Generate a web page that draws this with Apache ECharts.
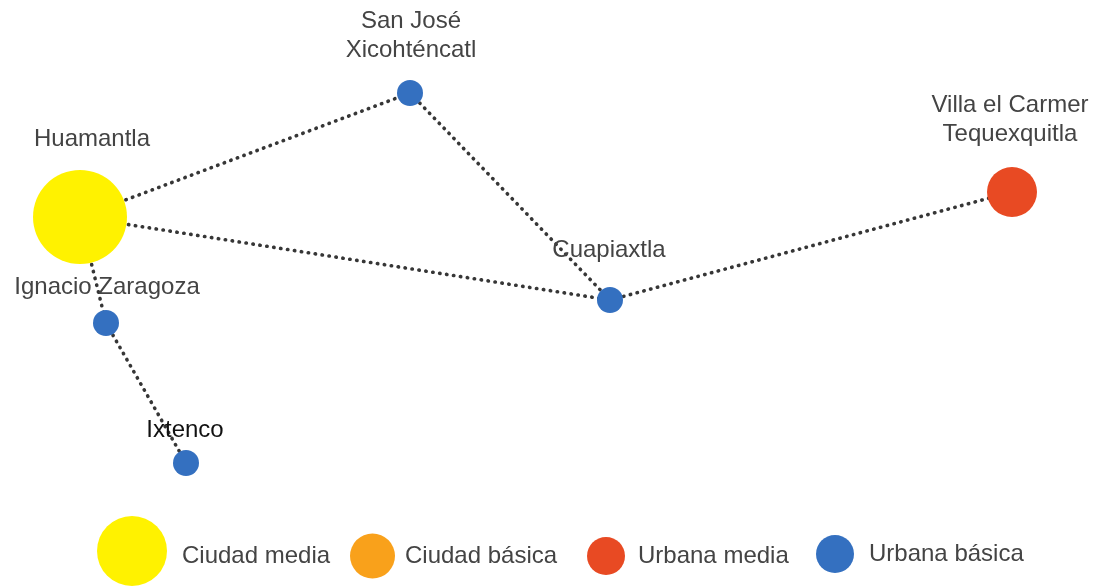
<!DOCTYPE html>
<html><head><meta charset="utf-8">
<script src="https://cdn.jsdelivr.net/npm/echarts@6/dist/echarts.min.js"></script>
<style>html,body{margin:0;padding:0;background:#fff}#c{width:1096px;height:588px}</style>
</head><body><div id="c"></div>
<script>
// ---- data ----
const nodeNames = ['Huamantla', 'San José\nXicohténcatl', 'Cuapiaxtla', 'Villa el Carmer\nTequexquitla', 'Ignacio Zaragoza', 'Ixtenco'];
const nodeX = [80, 410, 610, 1012, 106, 186];
const nodeY = [217, 93, 300, 192, 323, 463];
const nodeCategory = ['Ciudad media', 'Urbana básica', 'Urbana básica', 'Urbana media', 'Urbana básica', 'Urbana básica'];
const linkSource = [0, 0, 1, 2, 0, 4];
const linkTarget = [1, 2, 2, 3, 4, 5];
const categories = ['Ciudad media', 'Ciudad básica', 'Urbana media', 'Urbana básica'];

// ---- styles ----
const catColors = ['#FFF200', '#F9A11B', '#E84A23', '#3470C0'];
const catNodeSize = [94, 46, 50, 26];
const legendSize = [70, 45, 38, 38];
const legendLeft = [97, 350, 587, 816];
const legendCenterY = [551, 556, 556, 554];
const legendTextPad = [[10, 0, 0, 10], [0, 0, 0, 5], [0, 0, 0, 8], [0, 0, 0, 10]];
const labelStyle = [
  {distance: 16.5, offset: [12, 0]},
  {distance: 15, offset: [1, 0]},
  {distance: 22.5, offset: [-1, 0]},
  {distance: 18.5, offset: [-2, 0]},
  {distance: 8.5, offset: [1, 0]},
  {distance: 5, offset: [-1, 0], color: '#111'}
];

const nodes = nodeNames.map((n, i) => {
  const ci = categories.indexOf(nodeCategory[i]);
  return {
    name: n,
    value: [nodeX[i], nodeY[i]],
    category: ci,
    symbolSize: catNodeSize[ci],
    label: Object.assign({}, labelStyle[i])
  };
});
const links = linkSource.map((s, i) => ({source: s, target: linkTarget[i]}));

const chart = echarts.init(document.getElementById('c'));
chart.setOption({
  animation: false,
  backgroundColor: '#fff',
  grid: {left: 0, right: 0, top: 0, bottom: 0},
  xAxis: {type: 'value', min: 0, max: 1096, show: false},
  yAxis: {type: 'value', min: 0, max: 588, inverse: true, show: false},
  legend: categories.map((c, i) => ({
    data: [c],
    left: legendLeft[i],
    top: legendCenterY[i] - legendSize[i] / 2,
    icon: 'circle',
    itemWidth: legendSize[i],
    itemHeight: legendSize[i],
    selectedMode: false,
    padding: 0,
    formatter: '{t|{name}}',
    textStyle: {
      fontSize: 24, color: '#444', fontFamily: 'Liberation Sans',
      rich: {t: {fontSize: 24, color: '#444', fontFamily: 'Liberation Sans', padding: legendTextPad[i]}}
    }
  })),
  series: [{
    type: 'graph',
    coordinateSystem: 'cartesian2d',
    symbol: 'circle',
    data: nodes,
    links: links,
    categories: categories.map((c, i) => ({name: c, itemStyle: {color: catColors[i]}})),
    lineStyle: {color: '#363636', width: 3.6, type: [0.4, 6.6], cap: 'round', opacity: 1, curveness: 0},
    label: {show: true, position: 'top', fontSize: 24, color: '#444', fontFamily: 'Liberation Sans', lineHeight: 29},
    emphasis: {disabled: true}
  }]
});
</script>
</body></html>
